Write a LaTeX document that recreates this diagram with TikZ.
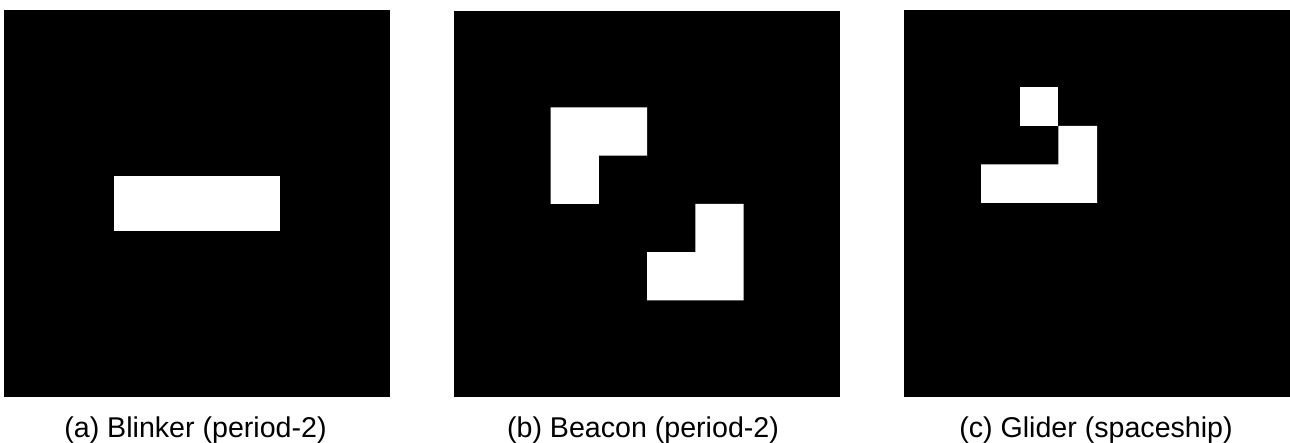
\documentclass[tikz,border=0pt]{standalone}
\usepackage{fontspec}
\setmainfont{Liberation Sans}
\begin{document}
\begin{tikzpicture}[x=1pt,y=-1pt,
  board/.style={fill=black},
  cell/.style={fill=white},
  caption/.style={anchor=base,font=\fontsize{28.6}{32}\selectfont,inner sep=0pt}]
\useasboundingbox (0,0) rectangle (1290,443);
% (a) Blinker: 7x7 grid
\fill[board] (4,10) rectangle (390,397);
\fill[cell] (114,176) rectangle (280,231);
\node[caption] (capa) at (195.5,437) {(a) Blinker (period-2)};
% (b) Beacon: 8x8 grid, cell 48.25
\fill[board] (454,11) rectangle (840,397);
\fill[cell] (550.5,107.5) -- (647,107.5) -- (647,155.75) -- (598.75,155.75) -- (598.75,204) -- (550.5,204) -- cycle;
\fill[cell] (695.25,204) -- (743.5,204) -- (743.5,300.5) -- (647,300.5) -- (647,252.25) -- (695.25,252.25) -- cycle;
\node[caption] (capb) at (643,437) {(b) Beacon (period-2)};
% (c) Glider: 10x10 grid, cell 38.6
\fill[board] (904,10) rectangle (1290,397);
\fill[cell] (1019.8,87.2) rectangle (1058.4,125.8);
\fill[cell] (1058.4,125.8) -- (1097,125.8) -- (1097,203) -- (981.2,203) -- (981.2,164.4) -- (1058.4,164.4) -- cycle;
\node[caption] (capc) at (1096,437) {(c) Glider (spaceship)};
\end{tikzpicture}
\end{document}
